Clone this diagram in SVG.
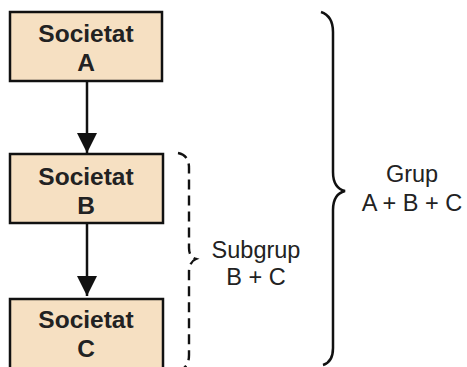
<svg xmlns="http://www.w3.org/2000/svg" width="467" height="367" viewBox="0 0 467 367">
<defs>
<style>
.box{fill:#F6E0C2;stroke:#111;stroke-width:2.5}
.bt{font-family:"Liberation Sans",Arial,sans-serif;font-weight:bold;font-size:24.5px;fill:#222;text-anchor:middle}
.lt{font-family:"Liberation Sans",Arial,sans-serif;font-size:23.5px;fill:#222;text-anchor:middle}
.conn{stroke:#111;stroke-width:2.5;fill:none}
</style>
<marker id="ah" viewBox="0 0 10 10" refX="10" refY="5" markerWidth="8" markerHeight="8" markerUnits="strokeWidth" orient="auto">
<path d="M0,0 L10,5 L0,10 z" fill="#111"/>
</marker>
</defs>
<rect width="467" height="367" fill="#fff"/>
<g id="connectors">
<line class="conn" x1="87" y1="81" x2="87" y2="153" marker-end="url(#ah)"/>
<line class="conn" x1="87" y1="223" x2="87" y2="296" marker-end="url(#ah)"/>
</g>
<g id="nodeA">
<rect class="box" x="10" y="12" width="152" height="69"/>
<text class="bt" x="86" y="42">Societat</text>
<text class="bt" x="86" y="71">A</text>
</g>
<g id="nodeB">
<rect class="box" x="10" y="154" width="153" height="69"/>
<text class="bt" x="86" y="185">Societat</text>
<text class="bt" x="86" y="214">B</text>
</g>
<g id="nodeC">
<rect class="box" x="10" y="299" width="153" height="80"/>
<text class="bt" x="86" y="328">Societat</text>
<text class="bt" x="86" y="357">C</text>
</g>
<g id="subgrup">
<path d="M178 153 Q189 155 189 168 L189 248 Q189 257 196 259 Q189 262 189 272 L189 355 Q189 364 184 368" fill="none" stroke="#111" stroke-width="2.4" stroke-dasharray="10,6"/>
<text class="lt" x="256" y="258">Subgrup</text>
<text class="lt" x="256" y="285">B + C</text>
</g>
<g id="grup">
<path d="M321 12 Q333 16 333 32 L333 172 Q333 188 345 191 Q333 194 333 210 L333 348 Q333 362 323 365" fill="none" stroke="#111" stroke-width="2.5"/>
<text class="lt" x="412" y="182">Grup</text>
<text class="lt" x="412" y="211">A + B + C</text>
</g>
</svg>
